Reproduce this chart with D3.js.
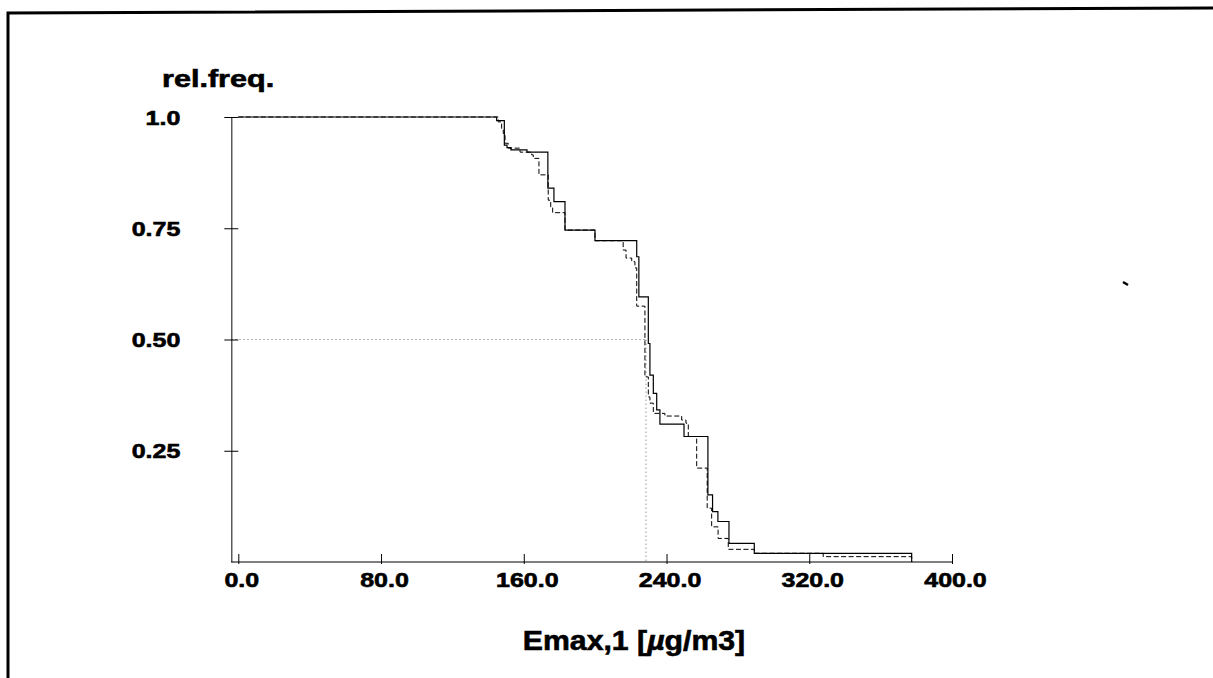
<!DOCTYPE html>
<html>
<head>
<meta charset="utf-8">
<script src="https://cdn.jsdelivr.net/npm/d3@7"></script>
<style>
    html, body { margin: 0; padding: 0; background: #fff; }
    text { font-family: 'Liberation Sans', Arial, Helvetica, sans-serif; font-weight: bold; fill: #000; stroke: #000; stroke-width: 0.6px; }
</style>
</head>
<body>
<div id="root"></div>
<script>
// 阶梯曲线: [x, 该点之后的相对频率]
var solidSteps = [
    [0, 1.0], [144.8, 0.992], [149.1, 0.937], [150.6, 0.931], [152.8, 0.926],
    [161.8, 0.921], [173.5, 0.840], [176.9, 0.810], [183.1, 0.746], [199.9, 0.722],
    [223.3, 0.686], [224.5, 0.596], [229.8, 0.491], [230.7, 0.420], [232.6, 0.379],
    [234.5, 0.342], [236.3, 0.310], [249.8, 0.282], [263.2, 0.151], [265.8, 0.113],
    [268.8, 0.091], [275.0, 0.042], [289.2, 0.0196], [377.4, 0]
]
var dashedSteps = [
    [0, 1.0], [145.7, 0.989], [147.6, 0.971], [148.5, 0.963], [149.5, 0.941],
    [151.3, 0.930], [157.9, 0.921], [164.4, 0.915], [165.3, 0.907], [168.5, 0.870],
    [173.7, 0.813], [175.1, 0.798], [176.2, 0.785], [183.1, 0.746], [199.9, 0.722],
    [215.7, 0.701], [217.3, 0.683], [220.5, 0.675], [222.3, 0.661], [223.3, 0.575],
    [227.9, 0.416], [229.8, 0.371], [230.7, 0.357], [232.6, 0.334], [239.1, 0.328],
    [248.5, 0.319], [250.9, 0.312], [252.2, 0.282], [256.9, 0.211], [262.8, 0.121],
    [265.3, 0.079], [268.9, 0.053], [274.6, 0.0285], [289.2, 0.0196], [327.8, 0.012],
    [377.4, 0]
]
var medianX = 228.5
var medianFreq = 0.5
// 刻度
var xTicks = [0, 80, 160, 240, 320, 400]
var xTickLabels = ['0.0', '80.0', '160.0', '240.0', '320.0', '400.0']
var yTicks = [1.0, 0.75, 0.5, 0.25]
var yTickLabels = ['1.0', '0.75', '0.50', '0.25']
var yTitle = 'rel.freq.'
var xTitle = ['Emax,1 [', 'µ', 'g/m3]']

window.onload = function () {
    var width = 1213
    var height = 678
    var svg = d3.select('#root').append('svg')
        .attr('width', width)
        .attr('height', height)
        .style('display', 'block')

    // 外框 (扫描件左/上边线)
    svg.append('path')
        .attr('d', 'M8,678V13L1213,8')
        .attr('fill', 'none')
        .attr('stroke', '#000')
        .attr('stroke-width', 3)
    svg.append('line')
        .attr('x1', 1123).attr('y1', 282).attr('x2', 1128).attr('y2', 285)
        .attr('stroke', '#000').attr('stroke-width', 2.5)

    // 比例尺
    var X = d3.scaleLinear().domain([0, 400]).range([238.3, 952])
    var Y = d3.scaleLinear().domain([0, 1]).range([562, 117])
    var axisX = X(0) - 7

    // 参考线 (中位数)
    var refG = svg.append('g').attr('class', 'ref')
    refG.append('line')
        .attr('x1', axisX).attr('x2', X(medianX))
        .attr('y1', Y(medianFreq)).attr('y2', Y(medianFreq))
    refG.append('line')
        .attr('x1', X(medianX)).attr('x2', X(medianX))
        .attr('y1', Y(medianFreq)).attr('y2', Y(0))
    refG.selectAll('line')
        .attr('stroke', '#999')
        .attr('stroke-width', 1)
        .attr('stroke-dasharray', '1.5,2.5')

    // Y轴
    var YaxisG = svg.append('g')
        .attr('class', 'YaxisG')
        .attr('transform', 'translate(' + axisX + ',0)')
    YaxisG.call(d3.axisLeft(Y)
        .tickValues(yTicks)
        .tickFormat(function (d, i) { return yTickLabels[i] })
        .tickSizeOuter(0))
    YaxisG.select('.domain').attr('stroke', '#333').attr('stroke-width', 1.2)
    YaxisG.selectAll('.tick line').attr('x1', -7).attr('x2', 7).attr('stroke', '#000')
    YaxisG.selectAll('.tick text')
        .attr('x', 0).attr('dy', null)
        .attr('text-anchor', 'end')
        .attr('font-size', 20)
        .attr('transform', 'translate(-51,7) scale(1.25,1)')

    // X轴
    var XaxisG = svg.append('g')
        .attr('class', 'XaxisG')
        .attr('transform', 'translate(0,' + Y(0) + ')')
    XaxisG.call(d3.axisBottom(X)
        .tickValues(xTicks)
        .tickFormat(function (d, i) { return xTickLabels[i] })
        .tickSizeOuter(0))
    XaxisG.select('.domain')
        .attr('d', 'M' + axisX + ',0H' + X(400))
        .attr('stroke', '#000').attr('stroke-width', 1.2)
    XaxisG.selectAll('.tick line').attr('y1', -8).attr('y2', 2).attr('stroke', '#000')
    XaxisG.selectAll('.tick text')
        .attr('y', 0).attr('dy', null)
        .attr('font-size', 20)
        .attr('transform', 'translate(3,25) scale(1.25,1)')
    svg.selectAll('.tick text').attr('font-family', null).attr('fill', '#000')

    // 曲线
    var line = d3.line()
        .x(function (d) { return X(d[0]) })
        .y(function (d) { return Y(d[1]) })
        .curve(d3.curveStepAfter)
    var lines = svg.append('g').attr('class', 'lines')
    lines.append('path')
        .datum(dashedSteps)
        .attr('d', line)
        .attr('fill', 'none')
        .attr('stroke', '#000')
        .attr('stroke-width', 1)
        .attr('stroke-dasharray', '5,2.5')
    lines.append('path')
        .datum(solidSteps)
        .attr('d', line)
        .attr('fill', 'none')
        .attr('stroke', '#000')
        .attr('stroke-width', 1.2)

    // 标题
    svg.append('text')
        .attr('transform', 'translate(162,87) scale(1.33,1)')
        .attr('font-size', 23)
        .text(yTitle)
    var xt = svg.append('text')
        .attr('transform', 'translate(634,650) scale(1.08,1)')
        .attr('text-anchor', 'middle')
        .attr('font-size', 28)
    xt.append('tspan').text(xTitle[0])
    xt.append('tspan').attr('font-style', 'italic').text(xTitle[1])
    xt.append('tspan').text(xTitle[2])
}
</script>
</body>
</html>
